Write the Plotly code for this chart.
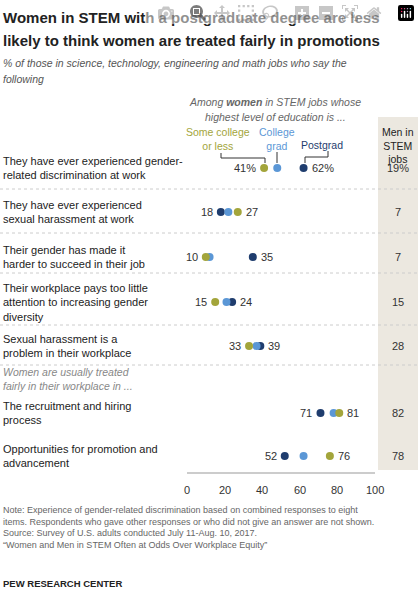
import plotly.graph_objects as go

W, H = 420, 599

# ---- data ----
items = [
    "They have ever experienced gender-<br>related discrimination at work",
    "They have ever experienced<br>sexual harassment at work",
    "Their gender has made it<br>harder to succeed in their job",
    "Their workplace pays too little<br>attention to increasing gender<br>diversity",
    "Sexual harassment is a<br>problem in their workplace",
    "The recruitment and hiring<br>process",
    "Opportunities for promotion and<br>advancement",
]
some_college = [41, 27, 10, 15, 33, 81, 76]
college_grad = [48, 22, 12, 21, 37, 78, 62]
postgrad = [62, 18, 35, 24, 39, 71, 52]
men_stem = ["19%", "7", "7", "15", "28", "82", "78"]
left_labels = ["41%", "18", "10", "15", "33", "71", "52"]
right_labels = ["62%", "27", "35", "24", "39", "81", "76"]
x_ticks = [0, 20, 40, 60, 80, 100]

# ---- layout (pixel positions) ----
ROW_Y = [168, 212, 257, 302, 346, 413, 456]
SEP_Y = [189, 233, 273, 325, 365]
X0_PX, X100_PX = 187, 375
OLIVE, LBLUE, NAVY = "#a3a53b", "#5b97d6", "#1f3d6e"
FONT = "Liberation Sans, Arial, sans-serif"

fig = go.Figure()
for vals, col in [(postgrad, NAVY), (college_grad, LBLUE), (some_college, OLIVE)]:
    fig.add_trace(go.Scatter(x=vals, y=ROW_Y, mode="markers", cliponaxis=False,
                             marker=dict(size=8, color=col), hoverinfo="skip"))

annos = []


def ptext(x, y, text, size=11, color="#222", anchor="left", align="left", italic=False):
    if italic:
        text = f"<i>{text}</i>"
    annos.append(dict(xref="paper", yref="y", x=x / W, y=y, text=text, showarrow=False,
                      xanchor=anchor, yanchor="middle", align=align,
                      font=dict(size=size, color=color)))


# value labels beside min/max dots
for i, y in enumerate(ROW_Y):
    vals = [some_college[i], college_grad[i], postgrad[i]]
    annos.append(dict(x=min(vals), y=y, text=left_labels[i], showarrow=False,
                      xanchor="right", xshift=-6, font=dict(size=11, color="#333")))
    annos.append(dict(x=max(vals), y=y, text=right_labels[i], showarrow=False,
                      xanchor="left", xshift=6, font=dict(size=11, color="#333")))
    ptext(1, y, items[i], 11, "#222")
    ptext(398, y, men_stem[i], 11, "#333", "center", "center")

for t in x_ticks:
    annos.append(dict(xref="x", yref="y", x=t, y=490, text=str(t), showarrow=False,
                      font=dict(size=11, color="#333")))

shapes = [dict(type="rect", xref="paper", yref="y", x0=378 / W, x1=418 / W,
               y0=117, y1=470, fillcolor="#ece8e0", line_width=0, layer="below")]
for sy in SEP_Y:
    shapes.append(dict(type="line", xref="paper", yref="y", x0=0, x1=1, y0=sy, y1=sy,
                       line=dict(color="#cccccc", width=1, dash="dot")))
shapes.append(dict(type="line", xref="x", yref="y", x0=-8, x1=104, y0=473, y1=473,
                   line=dict(color="#999", width=1)))

# header brackets
for pts in [[(221, 153), (221, 158), (265, 158), (265, 163)],
            [(277, 152), (277, 163)],
            [(305, 163), (305, 157), (328, 157), (328, 151)]]:
    for (xa, ya), (xb, yb) in zip(pts[:-1], pts[1:]):
        shapes.append(dict(type="line", xref="paper", yref="y", x0=xa / W, x1=xb / W,
                           y0=ya, y1=yb, line=dict(color="#333", width=1)))

ptext(1, 17, "<b>Women in STEM with a postgraduate degree are less</b>", 15, "#222")
ptext(1, 40, "<b>likely to think women are treated fairly in promotions</b>", 15, "#222")
ptext(1, 63, "% of those in science, technology, engineering and math jobs who say the",
      10.5, "#555", italic=True)
ptext(1, 79, "following", 10.5, "#555", italic=True)
ptext(275, 102, "Among <b>women</b> in STEM jobs whose", 10.5, "#666", "center", italic=True)
ptext(275, 117, "highest level of education is ...", 10.5, "#666", "center", italic=True)
ptext(218, 139, "Some college<br>or less", 10.5, OLIVE, "center", "center")
ptext(277, 139, "College<br>grad", 10.5, LBLUE, "center", "center")
ptext(322, 145, "Postgrad", 10.5, NAVY, "center")
ptext(398, 145, "Men in<br>STEM<br>jobs", 10.5, "#222", "center", "center")
ptext(1, 379, "Women are usually treated<br>fairly in their workplace in ...", 10.5, "#888",
      italic=True)
ptext(1, 527, "Note: Experience of gender-related discrimination based on combined responses to eight"
      "<br>items. Respondents who gave other responses or who did not give an answer are not shown."
      "<br>Source: Survey of U.S. adults conducted July 11-Aug. 10, 2017."
      "<br>“Women and Men in STEM Often at Odds Over Workplace Equity”", 9, "#666")
ptext(1, 583, "<b>PEW RESEARCH CENTER</b>", 9.5, "#222")

fig.update_layout(
    width=W, height=H, margin=dict(l=0, r=0, t=0, b=0),
    plot_bgcolor="white", paper_bgcolor="white", showlegend=False,
    font=dict(family=FONT),
    xaxis=dict(domain=[X0_PX / W, X100_PX / W], range=[0, 100], visible=False),
    yaxis=dict(domain=[0, 1], range=[H, 0], visible=False),
    shapes=shapes, annotations=annos,
)
fig.write_html("out.html", post_script="document.body.style.margin='0';")
